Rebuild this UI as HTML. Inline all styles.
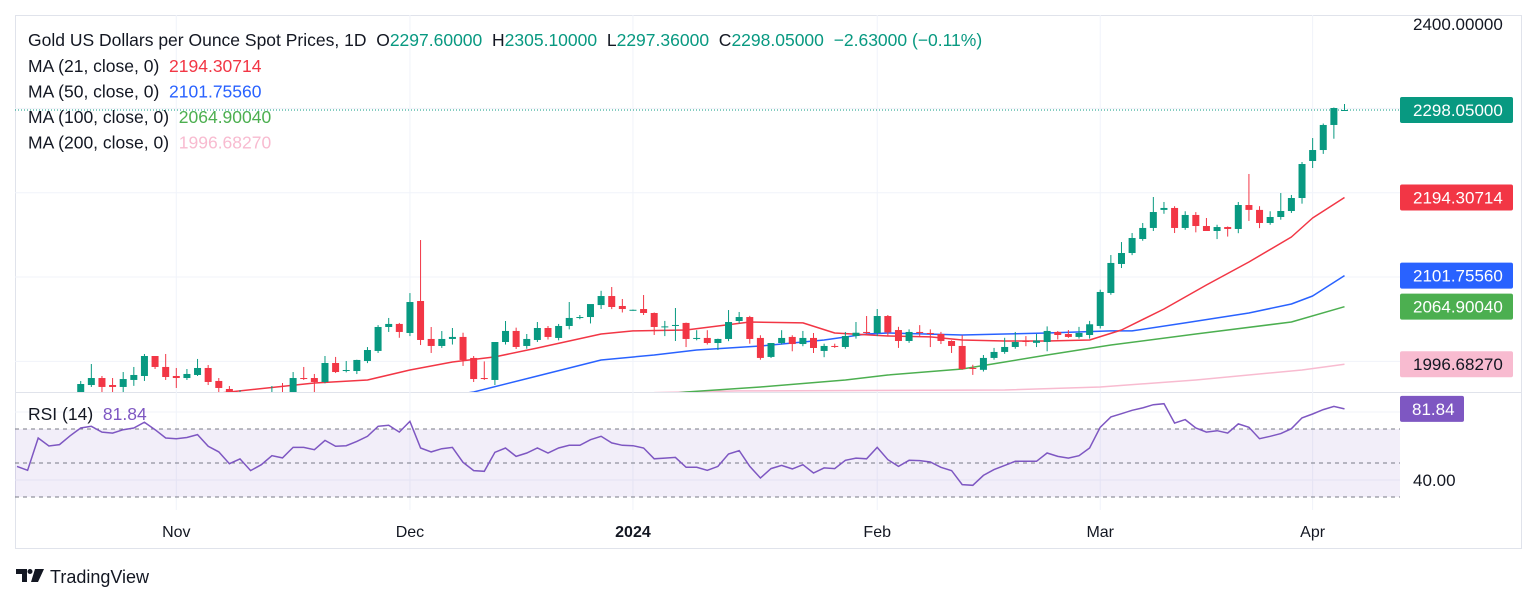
<!DOCTYPE html>
<html><head><meta charset="utf-8"><style>
body{margin:0;background:#fff;width:1536px;height:603px;overflow:hidden;font-family:"Liberation Sans",sans-serif}
svg{position:absolute;left:0;top:0}
</style></head><body>
<svg id="c" width="1536" height="603"></svg>
<script>
const opens=[1875,1873,1868,1930,1920,1922,1960,1972,1980.3,1972,1969.7,1978,1982.7,2006.4,1993.4,1982.7,1980.3,1983.9,1992.2,1976.8,1967.3,1958,1961,1945,1952,1960,1957,1980.3,1980.3,1975.6,1998.1,1988.6,1988.6,2000.5,2012.4,2040.8,2044.4,2033.7,2071.6,2026.6,2018.3,2026.6,2029,2004.1,1980.3,1978,2023,2036.1,2018.3,2025.4,2039.6,2027.8,2042,2051.5,2052.6,2066.8,2077.5,2065.7,2060.9,2062.1,2057.4,2040.8,2042,2045.6,2027,2027.8,2021.8,2026.6,2047.9,2052.6,2027.8,2005.3,2021.8,2029,2020.6,2027.8,2012.4,2018.3,2017.1,2030.1,2034.9,2033.7,2053.8,2037.2,2024.2,2034.9,2033.7,2032.5,2024.2,2018.3,1992.2,1990,2004.1,2011.2,2017.1,2024.2,2022,2023,2034.9,2032.5,2029,2031.3,2042,2081.1,2115.5,2128.5,2145.1,2158.2,2179.6,2181.9,2158.2,2173.6,2160.5,2154.6,2159.3,2157,2185.4,2179.6,2164.1,2171.2,2178.3,2193.7,2237.6,2250.6,2280.3,2297.6];
const highs=[1880,1877,1932,1932,1930,1950,1976.8,1996.9,1982.7,1980.3,1987.4,1993.4,2008.8,2006.4,2008.8,1992.2,1991,2002.9,1995.7,1980.3,1970.8,1966,1963,1958,1970.8,1974.4,1987.4,1993.4,1985.1,2006.4,2005.3,2000.5,2002,2017,2043,2051.5,2045.6,2081,2143.9,2040.8,2036,2039.6,2034,2006.4,2000,1980,2047.9,2040,2032.5,2046.7,2042,2044.4,2070.4,2055,2060,2083.7,2088.2,2074,2061.5,2078.7,2058,2048,2063.3,2046,2037,2037,2027,2060.9,2058.6,2054,2031,2021,2037,2031,2036.1,2033.7,2021,2021,2034.9,2046.7,2053.8,2062.1,2055,2041,2038,2043,2038,2035,2025,2031,1996,2007.6,2016,2028,2034.9,2030,2032.5,2041.5,2036,2037.2,2041,2048,2085,2126.1,2141.5,2152.2,2164.1,2194.9,2189,2184,2178,2177,2170,2162,2160,2189,2222.2,2184,2178,2199.6,2197.3,2236.4,2264.8,2282,2301,2305.1];
const lows=[1870,1862,1867,1908,1915,1920,1960,1969.7,1963.7,1963.7,1963.7,1971,1976.8,1991,1978,1968.5,1978,1982.7,1972,1963.7,1955,1952,1940,1942,1948,1952,1955,1978,1963.7,1974,1986.2,1987,1985,1998,2010,2034.9,2028,2030,2019.4,2010,2016,2020,1994.6,1975.6,1978,1972,2020,2014.7,2015,2023,2026,2025,2038,2050,2045,2062.1,2062,2058,2060,2055,2031.3,2030,2024.2,2017,2025,2020,2013.5,2024,2045,2021,2002,2004,2020,2012,2018,2010,2005,2016,2015,2027,2031,2030,2030,2016,2022,2030,2017,2020.6,2010,1990,1984,1988,2002,2009,2015,2018,2017,2012,2026,2028,2027,2027,2039,2079,2110.7,2126,2143,2154.6,2175,2152.2,2156,2153,2156,2145,2148,2152,2166.5,2158,2162,2168,2176,2187,2229.3,2246,2264,2297.36];
const closes=[1873,1868,1930,1920,1922,1945,1973.2,1980.3,1969.7,1969.7,1979.1,1983.9,2006.4,1993.4,1981.5,1980.3,1985.1,1992.2,1975.6,1968.5,1962.6,1961,1945,1952,1960,1957,1980.3,1979.1,1975.6,1998.1,1987.4,1989.8,2001.7,2013.5,2040.8,2044.4,2034.9,2070.4,2025.4,2018.3,2026.6,2029,2001.7,1979.1,1979.1,2023,2036.1,2017.1,2026.6,2039.6,2029,2042,2051.5,2052.6,2068,2077.5,2064.5,2062.1,2061.2,2057.4,2040.8,2041.5,2043.2,2026.6,2027.8,2021.8,2026.6,2046.7,2052.6,2026.6,2004.1,2021.8,2027.8,2020.6,2027.8,2015.9,2018.3,2017.5,2030.1,2034,2033.7,2053.8,2034.4,2024.2,2034.9,2033.7,2032.5,2024.2,2018.3,1991,1991.5,2004.1,2011.2,2017.1,2023,2023,2024.8,2036.1,2031.3,2029,2033.7,2044,2082.3,2116.7,2128.5,2146.3,2158.2,2177.1,2181.9,2158.2,2173.6,2160.5,2154.6,2159.3,2157,2185.4,2179.6,2164.1,2171.2,2178.3,2193.7,2234,2250.6,2280.3,2300.4,2298.05];
const rsiValues=[48,45.7,64.7,60,60.8,66,70.6,71.6,68.2,67.6,69.6,70.6,74,69.6,64.7,64.3,65,66.7,59.8,56.5,49.6,52.4,45.5,49,54.3,53,59.2,59.2,57.8,63.3,59.8,60.2,62.7,65.7,71.6,72.2,68.2,74.5,58.8,56.5,58.4,59.2,50.4,45.5,45.1,56.3,58.8,53.9,55.9,58.8,55.9,58.8,60.4,60.4,63.7,65.7,61.8,60.4,60.2,58.8,52.5,52.9,53.3,47.5,47.5,45.7,48,55.3,57.3,48,41.2,46.7,48.6,46.5,49,44.1,47.1,46.7,51.6,52.9,52.5,59.2,52,48,51.6,51.4,50.6,47.5,45.5,37.3,36.9,42.7,46.1,48.6,51,51,51,55.9,53.9,52.9,54.3,58.8,71,77.1,79,81,82.4,84.3,84.9,73.5,75.5,70.6,68.2,69,67.6,73,71,64.3,65.7,67.3,70.2,76.5,78.8,81.4,83.3,81.84];
const ma21Idx=[14,20,28,33,37,41,45,49,55,58,63,69,74,77,82,86,89,93,97,101,104,108,112,116,120,122,125];
const ma21Val=[1955,1963.7,1974.4,1978,1989.8,1999.3,2005.3,2015.9,2032.5,2036.1,2037.2,2046.7,2045.6,2033.7,2030.1,2029,2025.4,2024.2,2024.2,2025.4,2037.2,2062.1,2090.6,2117.9,2147.5,2170,2194.30714];
const ma50Idx=[40,43,49,55,60,64,70,76,80,82,89,93,97,103,105,110,116,120,122,125];
const ma50Val=[1958,1963.7,1982.7,2001.7,2007.6,2013.5,2018.3,2025.4,2032.5,2033.7,2031.3,2032.5,2033.7,2036.1,2036.1,2045.6,2057.4,2068,2077.5,2101.7556];
const ma100Idx=[60,63,70,78,82,89,93,97,103,111,120,125];
const ma100Val=[1960,1963.7,1969.7,1978,1983.9,1991,1999.3,2007.6,2019.4,2032.5,2046.7,2064.9004];
const ma200Idx=[60,68,93,102,111,121,125];
const ma200Val=[1963,1965,1966.1,1969.7,1978,1989.8,1996.6827];
const monthLabels=["Nov","Dec","2024","Feb","Mar","Apr"];
const monthIdx=[15,37,58,81,102,122];
const priceTicks=[2400];
const rsiTicks=[40];
const rsiLevels=[70,50,30];

const NS="http://www.w3.org/2000/svg";
const svg=document.getElementById('c');
const X=i=>17+i*10.62;
const Y=p=>24+(2400-p)*0.8435;
const RY=v=>463-(v-50)*1.7;
const FONT='Liberation Sans, sans-serif';
function el(t,a,parent){const e=document.createElementNS(NS,t);for(const k in a)e.setAttribute(k,a[k]);(parent||svg).appendChild(e);return e;}
const defs=el('defs',{});
const cp=el('clipPath',{id:'pc'},defs);el('rect',{x:15,y:15,width:1385,height:377},cp);
const cr=el('clipPath',{id:'rc'},defs);el('rect',{x:15,y:393,width:1385,height:117},cr);

let f=el('rect',{x:15.5,y:15.5,width:1506,height:533,fill:'none',stroke:'#e0e3eb'});


el('line',{x1:15,x2:1521,y1:392.5,y2:392.5,stroke:'#e0e3eb'});
[2000,2100,2200,2300].forEach(p=>{const g=el('line',{x1:15,x2:1400,y1:Y(p),y2:Y(p),stroke:'#f0f3fa'});

});
[40,80].forEach(v=>el('line',{x1:15,x2:1400,y1:RY(v),y2:RY(v),stroke:'#f0f3fa'}));
monthIdx.forEach(i=>{const g=el('line',{x1:X(i),x2:X(i),y1:15,y2:510,stroke:'#f0f3fa'});

});

const pg=el('g',{'clip-path':'url(#pc)'});


function maLine(idx,val,col,name){const pts=idx.map((k,j)=>X(k).toFixed(1)+','+Y(val[j]).toFixed(1)).join(' ');const l=el('polyline',{points:pts,fill:'none',stroke:col,'stroke-width':1.5,'stroke-linejoin':'round'},pg);

}
maLine(ma200Idx,ma200Val,'#f8bbd0','ma200-line');
maLine(ma100Idx,ma100Val,'#4caf50','ma100-line');
maLine(ma50Idx,ma50Val,'#2962ff','ma50-line');
maLine(ma21Idx,ma21Val,'#f23645','ma21-line');
for(let i=0;i<closes.length;i++){
  const up=closes[i]>=opens[i];const col=up?'#089981':'#f23645';
  const g=el('g',{},pg);
  
  
  el('line',{x1:X(i),x2:X(i),y1:Y(highs[i]),y2:Y(lows[i]),stroke:col,'stroke-width':1},g);
  const t=Math.min(Y(opens[i]),Y(closes[i]));const h=Math.max(1,Math.abs(Y(opens[i])-Y(closes[i])));
  el('rect',{x:X(i)-3.5,y:t,width:7,height:h,fill:col},g);
}
const lp=el('line',{x1:15,x2:1400,y1:Y(closes[closes.length-1]),y2:Y(closes[closes.length-1]),stroke:'#089981','stroke-dasharray':'1 2'});



const rg=el('g',{'clip-path':'url(#rc)'});


el('rect',{x:15,y:RY(70),width:1385,height:RY(30)-RY(70),fill:'#7e57c2','fill-opacity':0.1},rg);
rsiLevels.forEach(v=>{const l=el('line',{x1:15,x2:1400,y1:RY(v),y2:RY(v),stroke:'#787b86','stroke-dasharray':'4 4'},rg);

});
const rl=el('polyline',{points:rsiValues.map((v,i)=>X(i).toFixed(1)+','+RY(v).toFixed(1)).join(' '),fill:'none',stroke:'#7e57c2','stroke-width':1.5},rg);



function txt(x,y,s,col,size,anchor,name,weight){const t=el('text',{x:x,y:y,fill:col,'font-size':size,'text-anchor':anchor||'start','font-family':FONT});if(weight)t.setAttribute('font-weight',weight);t.textContent=s;

return t;}
priceTicks.forEach(p=>txt(1413,Y(p)+6,p.toFixed(5),'#131722',17,'start','price-tick'));
rsiTicks.forEach(v=>txt(1413,RY(v)+6,v.toFixed(2),'#131722',17,'start','rsi-tick'));
monthLabels.forEach((m,j)=>txt(X(monthIdx[j]),537,m,'#131722',16,'middle','month-label',m==='2024'?'bold':null));
function badge(val,bg,fg,name){const y=Y(val);const b=el('rect',{x:1400,y:y-13,width:113,height:26,rx:2,fill:bg});


txt(1413,y+6,val.toFixed(5),fg,17,'start','price-badge-text');}
badge(closes[closes.length-1],'#089981','#fff','last-price-badge');
badge(ma21Val[ma21Val.length-1],'#f23645','#fff','ma21-badge');
badge(ma50Val[ma50Val.length-1],'#2962ff','#fff','ma50-badge');
badge(ma100Val[ma100Val.length-1],'#4caf50','#fff','ma100-badge');
badge(ma200Val[ma200Val.length-1],'#f8bbd0','#131722','ma200-badge');
const rv=rsiValues[rsiValues.length-1];
const rb=el('rect',{x:1400,y:RY(rv)-13,width:64,height:26,rx:2,fill:'#7e57c2'});


txt(1412,RY(rv)+6,rv.toFixed(2),'#fff',17,'start','rsi-badge-text');

const lg=el('text',{x:28,y:46,'font-size':17.5,fill:'#131722','font-family':FONT});


lg.style.whiteSpace='pre';
lg.innerHTML='Gold US Dollars per Ounce Spot Prices, 1D  O<tspan fill="#089981">2297.60000</tspan>  H<tspan fill="#089981">2305.10000</tspan>  L<tspan fill="#089981">2297.36000</tspan>  C<tspan fill="#089981">2298.05000</tspan>  <tspan fill="#089981">−2.63000 (−0.11%)</tspan>';
const maL=[['MA (21, close, 0)','2194.30714','#f23645'],['MA (50, close, 0)','2101.75560','#2962ff'],['MA (100, close, 0)','2064.90040','#4caf50'],['MA (200, close, 0)','1996.68270','#f8bbd0']];
maL.forEach((m,j)=>{const t=el('text',{x:28,y:72+j*25.5,'font-size':17.5,fill:'#131722','font-family':FONT});t.style.whiteSpace='pre';t.innerHTML=m[0]+'  <tspan fill="'+m[2]+'">'+m[1]+'</tspan>';

});
const rt=el('text',{x:28,y:420,'font-size':17.5,fill:'#131722','font-family':FONT});
rt.style.whiteSpace='pre';rt.innerHTML='RSI (14)  <tspan fill="#7e57c2">81.84</tspan>';



const lo=el('g',{});


el('path',{d:'M16 569h11v13h-5v-8h-6z',fill:'#131722'},lo);
el('circle',{cx:30,cy:571.5,r:2.5,fill:'#131722'},lo);
el('path',{d:'M35 569h9l-6 13h-7z',fill:'#131722'},lo);
txt(50,583,'TradingView','#131722',18,'start','tradingview-wordmark');
</script>
</body></html>
